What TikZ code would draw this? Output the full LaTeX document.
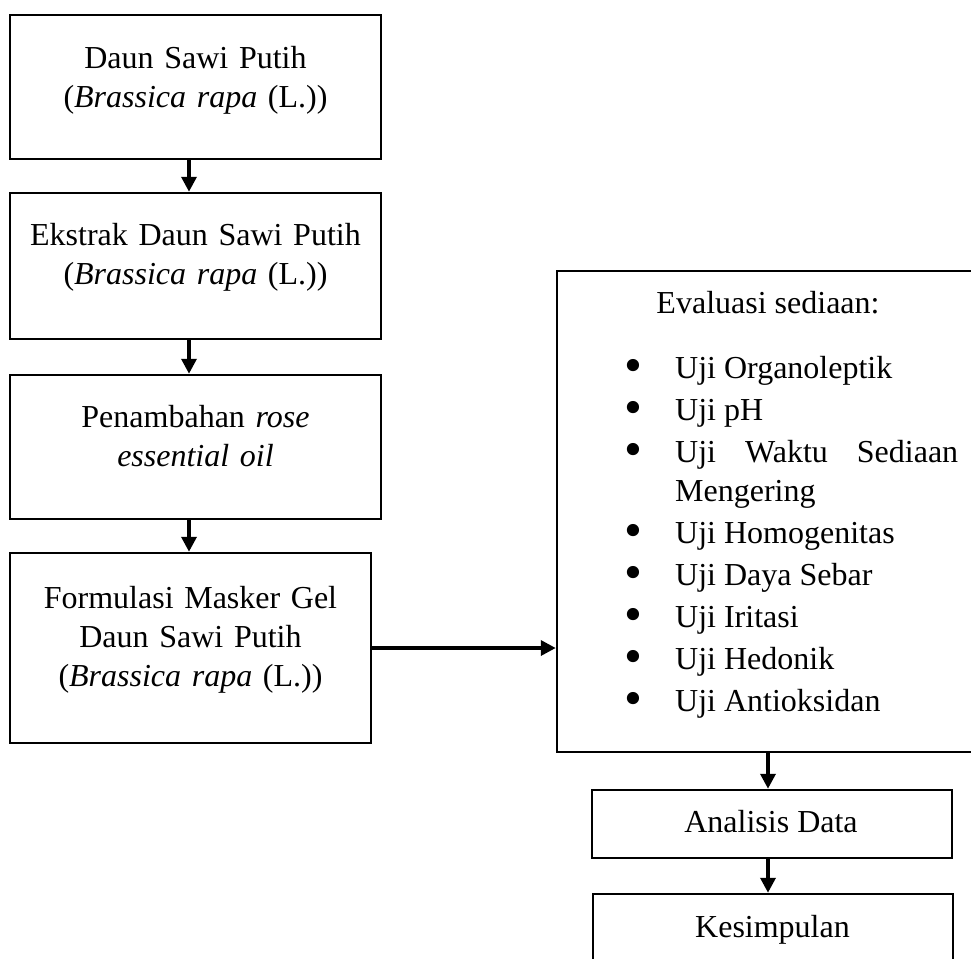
\documentclass[tikz,border=0pt]{standalone}
\usepackage{fontspec}
\setmainfont{Liberation Serif}
\usetikzlibrary{arrows.meta}
\tikzset{
  stepbox/.style={draw, line width=2.5pt, inner sep=0pt},
  boxtext/.style={inner sep=0pt, align=center, font=\fontsize{32}{39}\selectfont},
  flow/.style={line width=3.5pt, -{Triangle[length=15pt,width=15pt]}}
}
\newcommand{\ujibullet}{\makebox[10pt]{\raisebox{-4pt}{\scalebox{1.6}{\textbullet}}}}
\begin{document}
\begin{tikzpicture}[x=1pt,y=-1pt]
    \useasboundingbox (0,0) rectangle (971,958);
    % left column
    \node[stepbox, minimum width=371pt, minimum height=144pt] (daun) at (195.5,87) {};
    \node[stepbox, minimum width=371pt, minimum height=146pt] (ekstrak) at (195.5,266) {};
    \node[stepbox, minimum width=371pt, minimum height=144pt] (minyak) at (195.5,447) {};
    \node[stepbox, minimum width=361pt, minimum height=190pt] (formula) at (190.5,648) {};
    \node[boxtext, text width=360pt, anchor=base] (daunT) at (195.5,68) {Daun Sawi Putih\\(\textit{Brassica rapa} (L.))};
    \node[boxtext, text width=360pt, anchor=base] (ekstrakT) at (195.5,245) {Ekstrak Daun Sawi Putih\\(\textit{Brassica rapa} (L.))};
    \node[boxtext, text width=360pt, anchor=base] (minyakT) at (195.5,427) {Penambahan \textit{rose}\\\textit{essential oil}};
    \node[boxtext, text width=350pt, anchor=base] (formulaT) at (190.5,608) {Formulasi Masker Gel\\Daun Sawi Putih\\(\textit{Brassica rapa} (L.))};
    % right column
    \node[stepbox, minimum width=443pt, minimum height=481pt] (eval) at (778.5,511.5) {};
    \node[boxtext, anchor=base] (evalT) at (768,313) {Evaluasi sediaan:};
    \node[boxtext, align=justify, text width=338pt, anchor=base west] (uji) at (620,340) {%
      \hyphenpenalty=10000
      \begin{list}{\ujibullet}{\setlength{\leftmargin}{55pt}\setlength{\labelsep}{37pt}%
        \setlength{\labelwidth}{10pt}\setlength{\itemsep}{3.5pt}\setlength{\parsep}{0pt}%
        \setlength{\topsep}{0pt}\setlength{\partopsep}{0pt}\setlength{\itemindent}{0pt}}
      \fontsize{32}{38.5}\selectfont
      \item Uji Organoleptik
      \item Uji pH
      \item Uji Waktu Sediaan Mengering
      \item Uji Homogenitas
      \item Uji Daya Sebar
      \item Uji Iritasi
      \item Uji Hedonik
      \item Uji Antioksidan
      \end{list}};
    \node[stepbox, minimum width=360pt, minimum height=68pt] (analisis) at (772,824) {};
    \node[boxtext, anchor=base] (analisisT) at (771,832) {Analisis Data};
    \node[stepbox, minimum width=360pt, minimum height=68pt] (simpul) at (773,928) {};
    \node[boxtext, anchor=base] (simpulT) at (772.5,937) {Kesimpulan};
    % arrows
    \draw[flow] ([xshift=-6.5pt]daun.south) -- ([xshift=-6.5pt]ekstrak.north);
    \draw[flow] ([xshift=-6.5pt]ekstrak.south) -- ([xshift=-6.5pt]minyak.north);
    \draw[flow] ([xshift=-6.5pt]minyak.south) -- ([xshift=-1.5pt]formula.north);
    \draw[flow] (formula.east) -- (formula.east -| eval.west);
    \draw[flow] ([xshift=-4pt]analisis.north |- eval.south) -- ([xshift=-4pt]analisis.north);
    \draw[flow] ([xshift=-4pt]analisis.south) -- ([xshift=-5pt]simpul.north);
\end{tikzpicture}
\end{document}
